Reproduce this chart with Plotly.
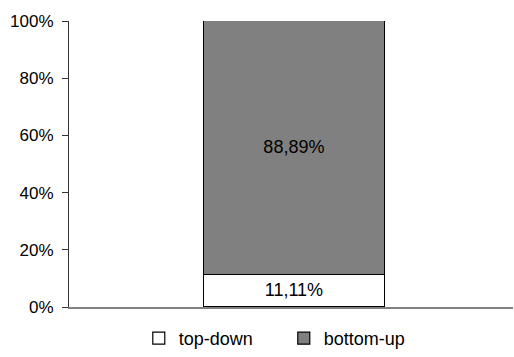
import plotly.graph_objects as go

categories = [""]
series_names = ["top-down", "bottom-up"]
top_down = [0.1111]
bottom_up = [0.8889]
fills = ["#FFFFFF", "#808080"]

fig = go.Figure()
for name, vals, color in zip(series_names, [top_down, bottom_up], fills):
    fig.add_trace(go.Bar(
        x=categories, y=vals, name=name,
        marker=dict(color=color, line=dict(color="#000000", width=1.2)),
        texttemplate="%{y:.2%}", textposition="inside",
        insidetextanchor="middle",
        textfont=dict(color="#000000", size=18, family="Liberation Sans"),
        width=0.408,
    ))

fig.update_layout(
    barmode="stack",
    width=514, height=357,
    margin=dict(l=69, r=1, t=21, b=50),
    plot_bgcolor="white", paper_bgcolor="white",
    separators=",.",
    font=dict(family="Liberation Sans", size=17, color="#000000"),
    showlegend=True,
    uniformtext=dict(mode="show", minsize=18),
    legend=dict(orientation="h", xref="container", yref="container",
                x=0.27, xanchor="left", y=-0.015, yanchor="bottom",
                font=dict(size=18), traceorder="normal",
                entrywidth=100, entrywidthmode="pixels"),
    bargap=0,
)
fig.update_yaxes(range=[0, 1], tickvals=[0, 0.2, 0.4, 0.6, 0.8, 1.0], tickformat=".0%",
                 showgrid=False, showline=True, linecolor="#333333", linewidth=1,
                 ticks="outside", ticklen=6, tickcolor="#333333", zeroline=False,
                 ticklabelstandoff=5, tickfont=dict(size=17))
fig.update_xaxes(range=[-0.508, 0.492], showgrid=False, showline=True, linecolor="#808080",
                 linewidth=2, ticks="", showticklabels=False, zeroline=False)

fig.write_html("out.html")
